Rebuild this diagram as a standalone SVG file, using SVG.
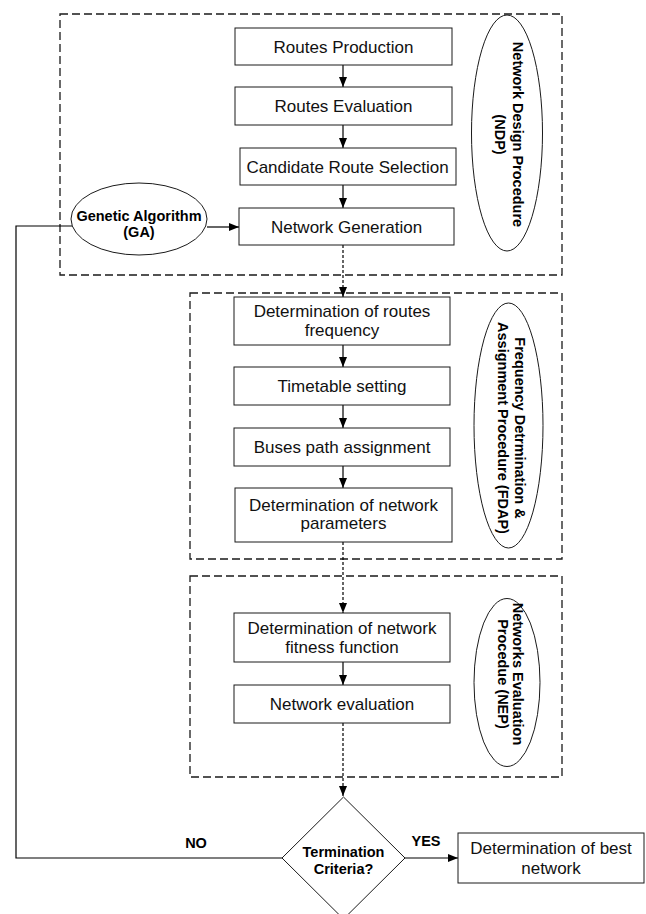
<svg xmlns="http://www.w3.org/2000/svg" width="646" height="914" viewBox="0 0 646 914">
<style>
.grp{fill:none;stroke:#1a1a1a;stroke-width:1.3;stroke-dasharray:8,4}
.box{fill:#fff;stroke:#1a1a1a;stroke-width:1}
.ell{fill:#fff;stroke:#1a1a1a;stroke-width:1}
.t{font-family:"Liberation Sans",Arial,sans-serif;font-size:17px;fill:#111;text-anchor:middle}
.b{font-family:"Liberation Sans",Arial,sans-serif;font-size:14.5px;font-weight:bold;fill:#000;text-anchor:middle}
.c{fill:none;stroke:#000;stroke-width:1.2}
.d{fill:none;stroke:#000;stroke-width:1.2;stroke-dasharray:3,2}
</style>
<defs>
<marker id="ah" viewBox="0 0 10 8" refX="10" refY="4" markerWidth="10" markerHeight="8" markerUnits="userSpaceOnUse" orient="auto">
<path d="M0,0 L10,4 L0,8 z" fill="#000"/>
</marker>
</defs>
<rect fill="#fff" x="0" y="0" width="646" height="914"/>

<g id="groups">
<rect class="grp" x="60" y="14" width="502" height="261"/>
<rect class="grp" x="190" y="293" width="372" height="266"/>
<rect class="grp" x="190" y="576" width="372" height="201"/>
</g>

<g id="connectors">
<line class="c" x1="343" y1="65" x2="343" y2="87" marker-end="url(#ah)"/>
<line class="c" x1="343" y1="125" x2="343" y2="148" marker-end="url(#ah)"/>
<line class="c" x1="343" y1="185" x2="343" y2="208" marker-end="url(#ah)"/>
<line class="c" x1="207" y1="227" x2="239" y2="227" marker-end="url(#ah)"/>
<line class="d" x1="343" y1="245" x2="343" y2="297" marker-end="url(#ah)"/>
<line class="c" x1="343" y1="345" x2="343" y2="367" marker-end="url(#ah)"/>
<line class="c" x1="343" y1="405" x2="343" y2="428" marker-end="url(#ah)"/>
<line class="c" x1="343" y1="466" x2="343" y2="488" marker-end="url(#ah)"/>
<line class="d" x1="343" y1="542" x2="343" y2="613" marker-end="url(#ah)"/>
<line class="c" x1="343" y1="662" x2="343" y2="685" marker-end="url(#ah)"/>
<line class="d" x1="343" y1="723" x2="343" y2="796" marker-end="url(#ah)"/>
<line class="c" x1="405" y1="858" x2="458" y2="858" marker-end="url(#ah)"/>
<polyline class="c" points="282,858 16,858 16,226 72,226"/>
<text class="b" x="196" y="848">NO</text>
<text class="b" x="426" y="846">YES</text>
</g>

<g id="n_routes_production">
<rect class="box" x="235" y="28" width="217" height="37"/>
<text class="t" x="343.5" y="52.5">Routes Production</text>
</g>
<g id="n_routes_evaluation">
<rect class="box" x="235" y="87" width="217" height="38"/>
<text class="t" x="343.5" y="112">Routes Evaluation</text>
</g>
<g id="n_candidate">
<rect class="box" x="240" y="148" width="216" height="37"/>
<text class="t" x="347.5" y="172.5">Candidate Route Selection</text>
</g>
<g id="n_network_generation">
<rect class="box" x="239" y="208" width="215" height="37"/>
<text class="t" x="346.5" y="232.5">Network Generation</text>
</g>
<g id="n_ga">
<ellipse class="ell" cx="139" cy="219" rx="68" ry="36"/>
<text class="b" x="139" y="221">Genetic Algorithm</text>
<text class="b" x="139" y="237">(GA)</text>
</g>
<g id="n_ndp">
<ellipse class="ell" cx="507" cy="133" rx="35.5" ry="118"/>
<text class="b" transform="translate(507,134.5) rotate(90)"><tspan x="0" y="-5.5">Network Design Procedure</tspan><tspan x="0" y="12">(NDP)</tspan></text>
</g>

<g id="n_routes_frequency">
<rect class="box" x="234" y="297" width="216" height="48"/>
<text class="t" x="342" y="317">Determination of routes</text>
<text class="t" x="342" y="336">frequency</text>
</g>
<g id="n_timetable">
<rect class="box" x="234" y="367" width="216" height="38"/>
<text class="t" x="342" y="392">Timetable setting</text>
</g>
<g id="n_buses">
<rect class="box" x="234" y="428" width="216" height="38"/>
<text class="t" x="342" y="453">Buses path assignment</text>
</g>
<g id="n_network_parameters">
<rect class="box" x="235" y="488" width="217" height="54"/>
<text class="t" x="343.5" y="510.5">Determination of network</text>
<text class="t" x="343.5" y="529">parameters</text>
</g>
<g id="n_fdap">
<ellipse class="ell" cx="508.5" cy="425.5" rx="34.5" ry="122.5"/>
<text class="b" transform="translate(508.5,428) rotate(90)"><tspan x="0" y="-6">Frequency Detrmination &amp;</tspan><tspan x="0" y="11">Assignment Procedure (FDAP)</tspan></text>
</g>

<g id="n_fitness">
<rect class="box" x="234" y="613" width="216" height="49"/>
<text class="t" x="342" y="634">Determination of network</text>
<text class="t" x="342" y="653">fitness function</text>
</g>
<g id="n_network_evaluation">
<rect class="box" x="234" y="685" width="216" height="38"/>
<text class="t" x="342" y="710">Network evaluation</text>
</g>
<g id="n_nep">
<ellipse class="ell" cx="507" cy="682.5" rx="33" ry="84"/>
<text class="b" transform="translate(507,674) rotate(90)"><tspan x="0" y="-6">Networks Evaluation</tspan><tspan x="0" y="9">Procedue (NEP)</tspan></text>
</g>

<g id="n_termination">
<polygon class="box" points="343.5,797 405,858 343.5,919 282,858"/>
<text class="b" x="343.5" y="857">Termination</text>
<text class="b" x="343.5" y="874">Criteria?</text>
</g>
<g id="n_best">
<rect class="box" x="458" y="833" width="186" height="50"/>
<text class="t" x="551" y="854">Determination of best</text>
<text class="t" x="551" y="874">network</text>
</g>
</svg>
